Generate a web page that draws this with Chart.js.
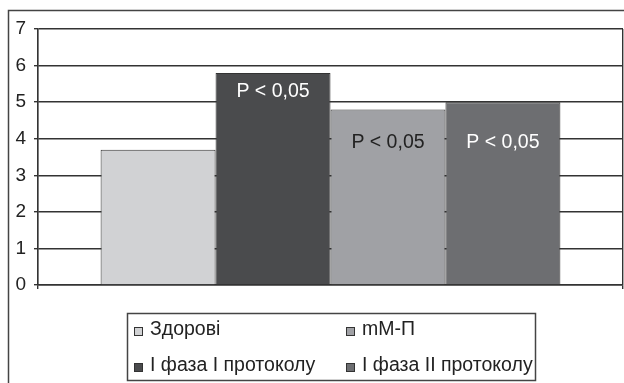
<!DOCTYPE html>
<html>
<head>
<meta charset="utf-8">
<script src="https://cdn.jsdelivr.net/npm/chart.js@4/dist/chart.umd.min.js"></script>
<style>
  html, body { margin: 0; padding: 0; background: #fff; }
  #wrap { width: 624px; height: 383px; position: relative; }
</style>
</head>
<body>
<div id="wrap"><canvas id="chart"></canvas></div>
<script>
const categories = [''];
const seriesNames = ['Здорові', 'I фаза I протоколу', 'mM-П', 'I фаза II протоколу'];
const seriesValues = [3.7, 5.8, 4.8, 5.0];
const seriesColors = ['#d1d2d4', '#4a4b4d', '#a0a1a5', '#6d6e71'];
const barNotes = ['', 'P < 0,05', 'P < 0,05', 'P < 0,05'];
const noteAt = [null, 5.3, 3.9, 3.9];
const noteColors = ['#222', '#fff', '#222', '#fff'];
const yTicks = [0, 1, 2, 3, 4, 5, 6, 7];

const FONT = '"Liberation Sans", Arial, sans-serif';
const LINE = '#333';

// outer frame around the whole figure (cut off at the right and bottom)
const framePlugin = {
    id: 'frame',
    beforeDraw(chart) {
        const ctx = chart.ctx;
        ctx.save();
        ctx.strokeStyle = '#444';
        ctx.lineWidth = 1.5;
        ctx.strokeRect(8.5, 10.5, 700, 500);
        ctx.restore();
    }
};

// "P < 0,05" inside the bars
const notesPlugin = {
    id: 'notes',
    afterDatasetsDraw(chart) {
        const ctx = chart.ctx;
        ctx.save();
        ctx.font = '19.5px ' + FONT;
        ctx.textAlign = 'center';
        ctx.textBaseline = 'middle';
        chart.data.datasets.forEach((ds, i) => {
            if (!barNotes[i]) return;
            const bar = chart.getDatasetMeta(i).data[0];
            ctx.fillStyle = noteColors[i];
            ctx.fillText(barNotes[i], bar.x, chart.scales.y.getPixelForValue(noteAt[i]));
        });
        ctx.restore();
    }
};

// boxed two-column legend below the plot (filled column by column)
const legendPlugin = {
    id: 'boxLegend',
    afterDraw(chart) {
        const ctx = chart.ctx;
        ctx.save();
        ctx.strokeStyle = '#444';
        ctx.lineWidth = 1.5;
        ctx.strokeRect(127.5, 313.5, 408, 67);
        const cols = [134, 346];
        const rows = [329, 365];
        ctx.font = '19.5px ' + FONT;
        ctx.textBaseline = 'middle';
        chart.data.datasets.forEach((ds, i) => {
            const x = cols[Math.floor(i / 2)];
            const y = rows[i % 2];
            ctx.fillStyle = ds.backgroundColor;
            ctx.fillRect(x, y - 2, 8, 8);
            ctx.strokeStyle = '#333';
            ctx.lineWidth = 1;
            ctx.strokeRect(x + 0.5, y - 1.5, 8, 8);
            ctx.fillStyle = '#222';
            ctx.fillText(ds.label, x + 16, y + 1);
        });
        ctx.restore();
    }
};

new Chart(document.getElementById('chart'), {
    type: 'bar',
    data: {
        labels: categories,
        datasets: seriesNames.map((name, i) => ({
            label: name,
            data: [seriesValues[i]],
            backgroundColor: seriesColors[i],
            borderColor: '#333',
            borderWidth: 1
        }))
    },
    options: {
        responsive: true,
        maintainAspectRatio: false,
        animation: false,
        datasets: { bar: { categoryPercentage: 0.786, barPercentage: 1 } },
        layout: { padding: { left: 0, right: 1, top: 29, bottom: 94 } },
        plugins: {
            legend: { display: false },
            tooltip: { enabled: false }
        },
        scales: {
            x: {
                afterFit(scale) { scale.height = 4; },
                ticks: { display: false },
                grid: { color: LINE, lineWidth: 1.4, tickLength: 4, offset: true },
                border: { color: LINE, width: 1.4 }
            },
            y: {
                min: 0,
                max: 7,
                afterFit(scale) { scale.width = 38; },
                afterBuildTicks(scale) { scale.ticks = yTicks.map(v => ({ value: v })); },
                ticks: { color: '#222', font: { size: 19, family: FONT }, padding: 8 },
                grid: { color: LINE, lineWidth: 1.4, tickLength: 4 },
                border: { color: LINE, width: 1.4 }
            }
        }
    },
    plugins: [framePlugin, notesPlugin, legendPlugin]
});
</script>
</body>
</html>
